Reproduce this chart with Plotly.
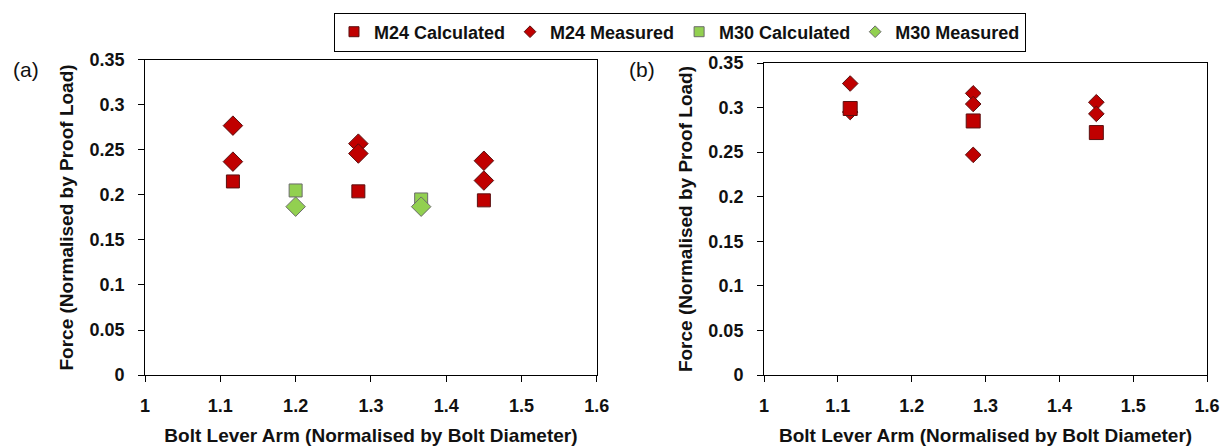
import plotly.graph_objects as go

# Panel (a)
a_m24_calc_x = [1.1167, 1.2833, 1.45]
a_m24_calc_y = [0.215, 0.204, 0.194]
a_m24_meas_x = [1.1167, 1.1167, 1.2833, 1.2833, 1.45, 1.45]
a_m24_meas_y = [0.277, 0.237, 0.257, 0.246, 0.238, 0.216]
a_m30_calc_x = [1.2, 1.3667]
a_m30_calc_y = [0.205, 0.195]
a_m30_meas_x = [1.2, 1.3667]
a_m30_meas_y = [0.187, 0.187]

# Panel (b)
b_m24_calc_x = [1.1167, 1.2833, 1.45]
b_m24_calc_y = [0.299, 0.285, 0.272]
b_m24_meas_x = [1.1167, 1.1167, 1.2833, 1.2833, 1.2833, 1.45, 1.45]
b_m24_meas_y = [0.327, 0.295, 0.316, 0.304, 0.247, 0.306, 0.293]

series_names = ["M24 Calculated", "M24 Measured", "M30 Calculated", "M30 Measured"]

x_ticks = [1, 1.1, 1.2, 1.3, 1.4, 1.5, 1.6]
y_ticks = [0, 0.05, 0.1, 0.15, 0.2, 0.25, 0.3, 0.35]

RED = "#C00000"
RED_LINE = "#5a1010"
GREEN = "#92D050"
GREEN_LINE = "#6b6b6b"
FONT = "Liberation Sans, Arial, sans-serif"

STYLE = {
    "M24 Calculated": ("square", RED, RED_LINE),
    "M24 Measured": ("diamond", RED, RED_LINE),
    "M30 Calculated": ("square", GREEN, GREEN_LINE),
    "M30 Measured": ("diamond", GREEN, GREEN_LINE),
}

fig = go.Figure()

def add(x, y, name, size, xa, ya):
    sym, color, lc = STYLE[name]
    fig.add_trace(go.Scatter(
        x=x, y=y, mode="markers", name=name, showlegend=False,
        legendgroup=name, xaxis=xa, yaxis=ya,
        marker=dict(symbol=sym, color=color, size=size,
                    line=dict(color=lc, width=1)),
    ))

add(a_m24_calc_x, a_m24_calc_y, "M24 Calculated", 13, "x", "y")
add(a_m24_meas_x, a_m24_meas_y, "M24 Measured", 15, "x", "y")
add(a_m30_calc_x, a_m30_calc_y, "M30 Calculated", 13, "x", "y")
add(a_m30_meas_x, a_m30_meas_y, "M30 Measured", 15, "x", "y")

add(b_m24_meas_x, b_m24_meas_y, "M24 Measured", 12, "x2", "y2")
add(b_m24_calc_x, b_m24_calc_y, "M24 Calculated", 14, "x2", "y2")

# legend entries (smaller symbols, as in the reference legend)
for name in series_names:
    sym, color, lc = STYLE[name]
    fig.add_trace(go.Scatter(
        x=[None], y=[None], mode="markers", name=f"<b>{name}</b>", legendgroup=name,
        marker=dict(symbol=sym, color=color, size=10 if sym == "square" else 9,
                    line=dict(color=lc, width=1)),
    ))

axis_common = dict(
    showline=True, linecolor="black", linewidth=1, mirror=True,
    ticks="outside", ticklen=6, tickcolor="black", showgrid=False,
    zeroline=False, automargin=False,
    tickfont=dict(family=FONT, size=18, color="#111"),
)

xtitle = dict(text="<b>Bolt Lever Arm (Normalised by Bolt Diameter)</b>",
              font=dict(family=FONT, size=19, color="#111"), standoff=14)
ytitle = dict(text="<b>Force (Normalised by Proof Load)</b>",
              font=dict(family=FONT, size=19, color="#111"), standoff=10)

fig.update_layout(
    width=1223, height=447,
    margin=dict(l=0, r=0, t=0, b=0, autoexpand=False),
    paper_bgcolor="white", plot_bgcolor="white",
    font=dict(family=FONT, color="#111"),
    xaxis=dict(domain=[0.1186, 0.488], range=[1, 1.6], tickvals=x_ticks,
               ticktext=[f"<b>{v:g}</b>" for v in x_ticks], title=xtitle, anchor="y",
               ticklabelstandoff=8, **axis_common),
    yaxis=dict(domain=[0.161, 0.866], range=[0, 0.35], tickvals=y_ticks,
               ticktext=[f"<b>{v:g}</b>" for v in y_ticks], title=ytitle, anchor="x",
               ticklabelstandoff=10, **axis_common),
    xaxis2=dict(domain=[0.6247, 0.987], range=[1, 1.6], tickvals=x_ticks,
                ticktext=[f"<b>{v:g}</b>" for v in x_ticks], title=xtitle, anchor="y2",
                ticklabelstandoff=8, **axis_common),
    yaxis2=dict(domain=[0.161, 0.859], range=[0, 0.35], tickvals=y_ticks,
                ticktext=[f"<b>{v:g}</b>" for v in y_ticks], title=ytitle, anchor="x2",
                ticklabelstandoff=10, **axis_common),
    legend=dict(orientation="h", x=0.556, xanchor="center", y=0.972, yanchor="top",
                bordercolor="black", borderwidth=1, bgcolor="white",
                font=dict(family=FONT, size=18, color="#111"),
                itemwidth=30, tracegroupgap=0),
    annotations=[
        dict(text="(a)", x=26 / 1223, y=1 - 69 / 447, xref="paper", yref="paper", showarrow=False,
             xanchor="center", yanchor="middle", font=dict(family=FONT, size=21, color="#111")),
        dict(text="(b)", x=642 / 1223, y=1 - 69 / 447, xref="paper", yref="paper", showarrow=False,
             xanchor="center", yanchor="middle", font=dict(family=FONT, size=21, color="#111")),
    ],
)

fig.write_html("out.html", config={"displayModeBar": False},
               post_script="document.body.style.margin='0';")
